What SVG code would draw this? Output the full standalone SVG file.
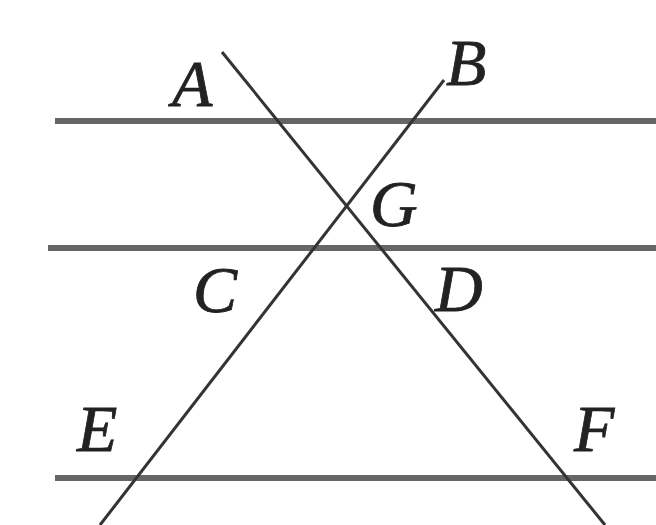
<svg xmlns="http://www.w3.org/2000/svg" width="656" height="525" viewBox="0 0 656 525">
<style>
.h{stroke:#666;stroke-width:6;fill:none}
.s{stroke:#333;stroke-width:3;fill:none}
.t{font-family:"Liberation Serif","Times New Roman",serif;font-style:italic;font-size:66px;fill:#222;stroke:#222;stroke-width:0.8}
</style>
<rect width="656" height="525" fill="#fff"/>
<g id="lines">
<line class="h" x1="55" y1="121" x2="656" y2="121"/>
<line class="h" x1="48" y1="248" x2="656" y2="248"/>
<line class="h" x1="55" y1="478" x2="656" y2="478"/>
<line class="s" x1="222" y1="52" x2="605" y2="525"/>
<line class="s" x1="444" y1="80" x2="100" y2="525"/>
</g>
<g id="labels">
<text class="t" x="172" y="106">A</text>
<text class="t" x="446" y="85">B</text>
<text class="t" x="370" y="226">G</text>
<text class="t" x="193" y="312">C</text>
<text class="t" x="435" y="311">D</text>
<text class="t" x="77" y="451">E</text>
<text class="t" x="574" y="451">F</text>
</g>
</svg>
